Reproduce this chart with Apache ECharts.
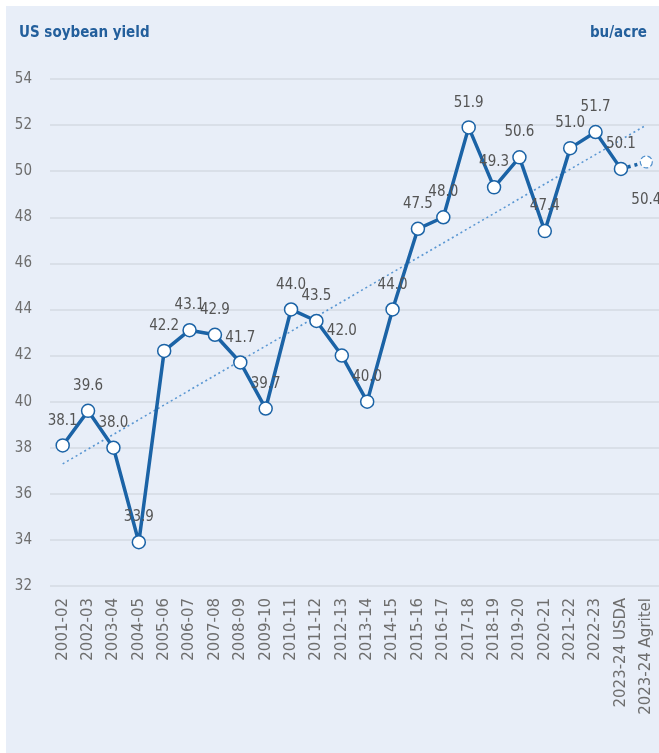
<!DOCTYPE html>
<html>
<head>
<meta charset="utf-8">
<script src="https://cdn.jsdelivr.net/npm/echarts@6/dist/echarts.min.js"></script>
<style>
html,body{margin:0;padding:0;background:#fff;}
#chart{width:659px;height:753px;}
</style>
</head>
<body>
<div id="chart"></div>
<script>
// marketing years
var seasons = ['2001-02','2002-03','2003-04','2004-05','2005-06','2006-07','2007-08','2008-09','2009-10','2010-11','2011-12','2012-13','2013-14','2014-15','2015-16','2016-17','2017-18','2018-19','2019-20','2020-21','2021-22','2022-23','2023-24 USDA','2023-24 Agritel'];
// yield, bu/acre (last one is the Agritel estimate, drawn apart)
var yields = [38.1, 39.6, 38.0, 33.9, 42.2, 43.1, 42.9, 41.7, 39.7, 44.0, 43.5, 42.0, 40.0, 44.0, 47.5, 48.0, 51.9, 49.3, 50.6, 47.4, 51.0, 51.7, 50.1, null];
var agritel = [null, null, null, null, null, null, null, null, null, null, null, null, null, null, null, null, null, null, null, null, null, null, 50.1, 50.4];
// trend line, read at both ends
var trend = [37.3, null, null, null, null, null, null, null, null, null, null, null, null, null, null, null, null, null, null, null, null, null, null, 52.0];
var yTicks = {min: 32, max: 54, interval: 2};

var blue = '#1b63a6';
var font = '"DejaVu Sans Condensed", "Open Sans", sans-serif';
var wide = '"DejaVu Sans", sans-serif';
var narrow = '"Liberation Sans Narrow", "DejaVu Sans Condensed", sans-serif';

var chart = echarts.init(document.getElementById('chart'));
chart.setOption({
    backgroundColor: '#fff',
    animation: false,
    graphic: [
        {type: 'rect', shape: {x: 6, y: 6, width: 660, height: 760}, style: {fill: '#e8eef8'}, z: -10},
        {type: 'text', left: 19, top: 26, style: {text: 'US soybean yield', fill: '#235f9c', font: 'bold 15px ' + narrow}},
        {type: 'text', right: 12, top: 26, style: {text: 'bu/acre', fill: '#235f9c', font: 'bold 15px ' + narrow}}
    ],
    grid: {left: 50, right: -3, top: 79, bottom: 167},
    xAxis: {
        type: 'category',
        data: seasons,
        axisLine: {show: false},
        axisTick: {show: false},
        axisLabel: {rotate: 90, interval: 0, margin: 12, color: '#6e6e6e', fontSize: 15, fontFamily: wide}
    },
    yAxis: {
        type: 'value',
        min: yTicks.min,
        max: yTicks.max,
        interval: yTicks.interval,
        axisLabel: {margin: 18, color: '#6e6e6e', fontSize: 15, fontFamily: font},
        splitLine: {lineStyle: {color: '#d5dae3', width: 1.5}}
    },
    series: [
        {
            type: 'line',
            data: trend,
            connectNulls: true,
            symbol: 'none',
            lineStyle: {color: '#5b97d2', width: 1.6, type: [2, 3]},
            z: 1
        },
        {
            type: 'line',
            data: agritel,
            symbol: 'circle',
            symbolSize: 12,
            showAllSymbol: true,
            lineStyle: {color: blue, width: 3.5, type: [3, 4]},
            itemStyle: {color: '#fff', borderColor: '#4f8fcc', borderWidth: 1.2, borderType: 'dashed'},
            label: {
                show: true,
                position: 'bottom',
                distance: 24,
                color: '#555',
                fontSize: 15,
                fontFamily: font,
                formatter: function (p) { return p.dataIndex === 23 ? p.value.toFixed(1) : ''; }
            },
            z: 2
        },
        {
            type: 'line',
            data: yields,
            symbol: 'circle',
            symbolSize: 13,
            showAllSymbol: true,
            lineStyle: {color: blue, width: 3.5},
            itemStyle: {color: '#fff', borderColor: blue, borderWidth: 1.5},
            label: {
                show: true,
                position: 'top',
                distance: 10,
                color: '#555',
                fontSize: 15,
                fontFamily: font,
                formatter: function (p) { return p.value.toFixed(1); }
            },
            z: 3
        }
    ]
});
</script>
</body>
</html>
